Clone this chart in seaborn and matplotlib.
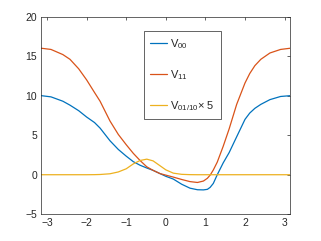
import pandas as pd
import numpy as np
import matplotlib
matplotlib.use("Agg")
import matplotlib.pyplot as plt
import seaborn as sns

# values
x = [-3.1416, -2.9, -2.6, -2.42, -2.2, -2.0, -1.8, -1.66, -1.41, -1.2, -1.0,
     -0.82, -0.65, -0.48, -0.32, -0.15, 0.0, 0.19, 0.4, 0.61, 0.8, 0.95, 1.05,
     1.12, 1.2, 1.3, 1.45, 1.6, 1.79, 2.0, 2.12, 2.25, 2.4, 2.63, 2.9, 3.1416]
v00 = [10.0, 9.85, 9.3, 8.8, 8.1, 7.3, 6.6, 5.9, 4.3, 3.2, 2.35,
       1.65, 1.2, 0.85, 0.55, 0.15, -0.2, -0.55, -1.2, -1.7, -1.9, -1.92, -1.85,
       -1.6, -1.1, 0.0, 1.5, 2.8, 4.8, 7.0, 7.8, 8.4, 8.9, 9.5, 9.9, 10.0]
v11 = [16.0, 15.85, 15.2, 14.6, 13.4, 12.0, 10.4, 9.3, 6.8, 5.1, 3.8,
       2.7, 1.8, 1.0, 0.55, 0.15, -0.05, -0.3, -0.6, -0.87, -0.98, -0.8, -0.45,
       -0.05, 0.6, 1.6, 3.6, 5.8, 8.9, 11.6, 12.8, 13.8, 14.6, 15.4, 15.85, 16.0]
v01x5 = [0, 0, 0, 0, 0, 0, 0.01, 0.03, 0.12, 0.35, 0.75,
         1.37, 1.8, 1.97, 1.75, 1.15, 0.62, 0.2, 0.05, 0.01, 0, 0, 0,
         0, 0, 0, 0, 0, 0, 0, 0, 0, 0, 0, 0, 0]
labels = [r'$\mathregular{V_{00}}$', r'$\mathregular{V_{11}}$',
          r'$\mathregular{V_{01/10}}$' + '× 5']
colors = ['#0072BD', '#D95319', '#EDB120']

df = pd.DataFrame({
    'x': x * 3,
    'v': v00 + v11 + v01x5,
    'serie': [labels[0]] * len(x) + [labels[1]] * len(x) + [labels[2]] * len(x),
})

sns.set_style('white')
plt.rcParams['font.family'] = ['Liberation Sans', 'DejaVu Sans']

fig = plt.figure(figsize=(3.21, 2.41), dpi=100)
ax = fig.add_axes([0.129, 0.111, 0.775, 0.820])
sns.lineplot(data=df, x='x', y='v', hue='serie', palette=colors,
             linewidth=0.9, sort=False, ax=ax)

ax.set_xlim(-np.pi, np.pi)
ax.set_ylim(-5, 20)
ax.set_xticks([-3, -2, -1, 0, 1, 2, 3])
ax.set_yticks([-5, 0, 5, 10, 15, 20])
ax.set_xlabel('')
ax.set_ylabel('')
ax.tick_params(direction='in', length=2.5, width=0.5, labelsize=7.5,
               colors='#262626', top=True, right=True, pad=3)
for s in ax.spines.values():
    s.set_color('#262626')
    s.set_linewidth(0.5)

leg = ax.legend(loc='upper left', bbox_to_anchor=(144.3 / 321, 1 - 30.7 / 241),
                bbox_transform=fig.transFigure, borderaxespad=0, fancybox=False,
                framealpha=1, edgecolor='#262626', fontsize=8, labelspacing=1.55,
                handlelength=1.5, handletextpad=0.25, borderpad=0.55)
leg.get_frame().set_linewidth(0.5)

fig.savefig('out.png', dpi=100)
